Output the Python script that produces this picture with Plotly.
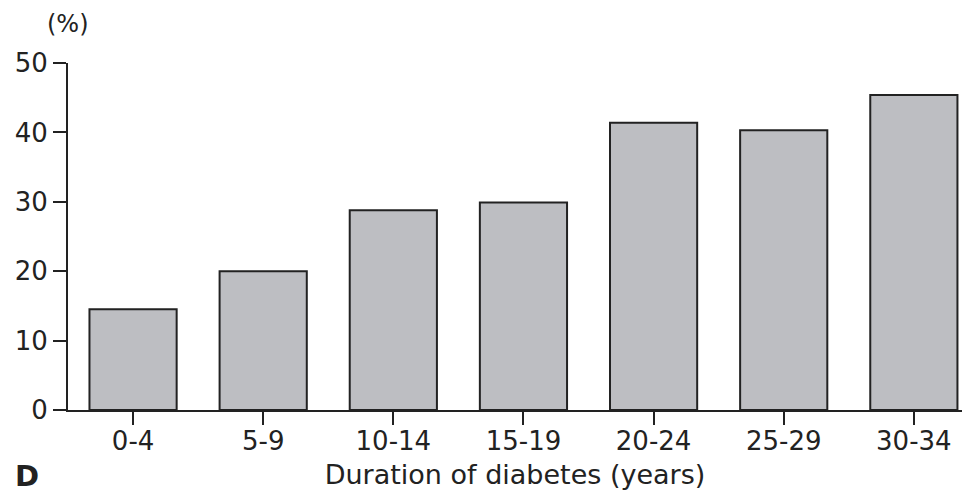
import plotly.graph_objects as go

# Prevalence (%) by duration of diabetes
categories = ["0-4", "5-9", "10-14", "15-19", "20-24", "25-29", "30-34"]
prevalence = [14.5, 20.0, 28.8, 29.9, 41.4, 40.3, 45.4]
y_ticks = [0, 10, 20, 30, 40, 50]

FONT = "DejaVu Sans"
INK = "#222222"

fig = go.Figure(
    go.Bar(
        x=list(range(len(categories))),
        y=prevalence,
        width=0.67,
        marker=dict(color="#bdbec2", line=dict(color=INK, width=2)),
        hoverinfo="skip",
    )
)

fig.update_layout(
    width=962,
    height=492,
    margin=dict(l=68, r=0, t=63, b=82),
    paper_bgcolor="white",
    plot_bgcolor="white",
    showlegend=False,
    font=dict(family=FONT, size=26, color=INK),
)

fig.update_xaxes(
    range=[-0.5, 6.37],
    tickmode="array",
    tickvals=list(range(len(categories))),
    ticktext=categories,
    tickson="boundaries",
    ticks="outside",
    ticklen=13,
    tickwidth=2,
    tickcolor=INK,
    showline=True,
    linecolor=INK,
    linewidth=2,
    showgrid=False,
    zeroline=False,
    ticklabelstandoff=-6,
    tickfont=dict(family=FONT, size=26, color=INK),
    title=dict(text="Duration of diabetes (years)",
               font=dict(family=FONT, size=27, color=INK), standoff=10),
)

fig.update_yaxes(
    range=[0, 50],
    tickmode="array",
    tickvals=y_ticks,
    ticks="outside",
    ticklen=13,
    tickwidth=2,
    tickcolor=INK,
    showline=True,
    linecolor=INK,
    linewidth=2,
    showgrid=False,
    zeroline=False,
    ticklabelstandoff=0,
    tickfont=dict(family=FONT, size=26, color=INK),
)

fig.add_annotation(text="(%)", xref="paper", yref="paper", x=0.0, y=1.112,
                   xanchor="center", yanchor="middle", showarrow=False,
                   font=dict(family=FONT, size=24, color=INK))
fig.add_annotation(text="<b>D</b>", xref="paper", yref="paper", x=-0.062, y=-0.19,
                   xanchor="left", yanchor="middle", showarrow=False,
                   font=dict(family=FONT, size=29, color=INK))

fig.write_html("out.html")
